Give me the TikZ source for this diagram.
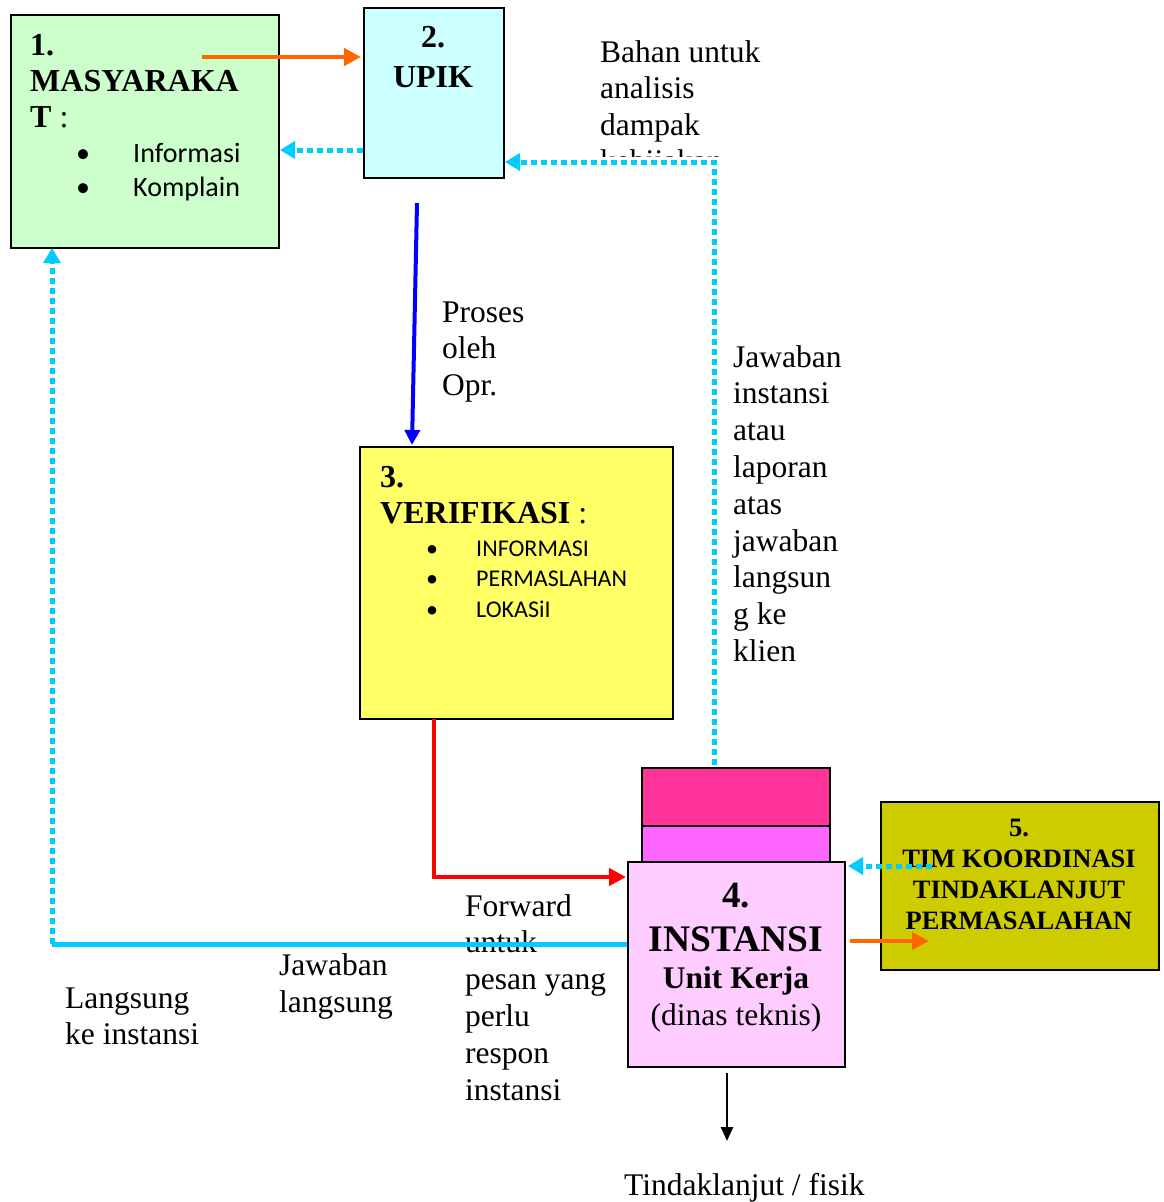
\documentclass[tikz,border=0pt]{standalone}
\usepackage{fontspec}
\setmainfont{Liberation Serif}
\newfontfamily\calfont{Carlito}
\usetikzlibrary{arrows.meta}
\definecolor{cgreen}{HTML}{CCFFCC}
\definecolor{ccyanbox}{HTML}{CCFFFF}
\definecolor{cyellow}{HTML}{FFFF66}
\definecolor{cpink}{HTML}{FFCCFF}
\definecolor{cmag}{HTML}{FF66FF}
\definecolor{crose}{HTML}{FF3399}
\definecolor{colive}{HTML}{CCCC00}
\definecolor{corange}{HTML}{FF6600}
\definecolor{ccyan}{HTML}{00CCFF}
\tikzset{
  box/.style={draw=black, line width=2pt, inner sep=0pt, anchor=north west},
  txt/.style={anchor=base west, inner sep=0pt, font=\fontsize{31.5}{37}\selectfont},
  btxt/.style={anchor=base west, inner sep=0pt, font=\fontsize{32}{36}\selectfont\bfseries},
  ctxt/.style={anchor=base, inner sep=0pt},
  cal/.style={anchor=base west, inner sep=0pt, font=\calfont\fontsize{28}{32}\selectfont},
  cals/.style={anchor=base west, inner sep=0pt, font=\calfont\fontsize{24}{28}\selectfont},
  dotarrow/.style={draw=ccyan, line width=5pt, dash pattern=on 6pt off 4pt, -{Triangle[length=15pt,width=17pt]}},
  orarrow/.style={draw=corange, line width=4.5pt, -{Triangle[length=17pt,width=17pt]}}
}
\begin{document}
\begin{tikzpicture}[x=1pt,y=-1pt]
\useasboundingbox (0,0) rectangle (1163,1202);
% boxes
\node[box, fill=cgreen, minimum width=268pt, minimum height=233pt] (m) at (10,14) {};
\node[box, fill=ccyanbox, minimum width=140pt, minimum height=170pt] (u) at (363,7) {};
\node[box, fill=cyellow, minimum width=313pt, minimum height=272pt] (v) at (359,446) {};
\node[box, fill=crose, minimum width=188pt, minimum height=58pt] (s1) at (641,767) {};
\node[box, fill=cmag, minimum width=188pt, minimum height=36pt] (s2) at (641,825) {};
\node[box, fill=cpink, minimum width=217pt, minimum height=205pt] (i) at (627,861) {};
\node[box, fill=colive, minimum width=278pt, minimum height=168pt] (t) at (880,801) {};
% box 1 text
\node[btxt] (m1) at (30,55) {1.};
\node[btxt] (m2) at (30,91) {MASYARAKA};
\node[btxt] (m3) at (30,127) {T\textnormal{ :}};
\node[cal, anchor=base] (mb1) at (83,162) {•};
\node[cal] (mi1) at (133,162) {Informasi};
\node[cal, anchor=base] (mb2) at (83,196) {•};
\node[cal] (mi2) at (133,196) {Komplain};
% box 2 text
\node[btxt, anchor=base] (u1) at (433,47) {2.};
\node[btxt, anchor=base] (u2) at (433,87) {UPIK};
% box 3 text
\node[btxt] (v1) at (380,487) {3.};
\node[btxt] (v2) at (380,523) {VERIFIKASI\textnormal{ :}};
\foreach \t [count=\k from 0] in {INFORMASI, PERMASLAHAN, LOKASiI}{
  \node[cals, anchor=base] (vb\k) at ({432},{556+\k*30.5}) {•};
  \node[cals] (vi\k) at ({476},{556+\k*30.5}) {\t};
}
% box 4 text
\node[ctxt, font=\fontsize{37}{40}\selectfont\bfseries] (i1) at (736,907) {4.};
\node[ctxt, font=\fontsize{37.5}{40}\selectfont\bfseries] (i2) at (736,951) {INSTANSI};
\node[ctxt, font=\fontsize{31.5}{36}\selectfont\bfseries] (i3) at (736,988) {Unit Kerja};
\node[ctxt, font=\fontsize{31.5}{36}\selectfont] (i4) at (736,1025) {(dinas teknis)};
% box 5 text
\node[ctxt, font=\fontsize{26.5}{30}\selectfont\bfseries] (t1) at (1019,836) {5.};
\node[ctxt, font=\fontsize{26.5}{30}\selectfont\bfseries] (t2) at (1019,867) {TIM KOORDINASI};
\node[ctxt, font=\fontsize{26.5}{30}\selectfont\bfseries] (t3) at (1019,898) {TINDAKLANJUT};
\node[ctxt, font=\fontsize{26.5}{30}\selectfont\bfseries] (t4) at (1019,929) {PERMASALAHAN};
% free labels
\foreach \t [count=\k from 0] in {Bahan untuk, analisis, dampak}{
  \node[txt] (b\k) at ({600},{62+\k*36.5}) {\t};
}
\begin{scope}
\clip (590,140) rectangle (780,156);
\node[txt] (b3) at (600,171) {kebijakan};
\end{scope}
\foreach \t [count=\k from 0] in {Proses, oleh, Opr.}{
  \node[txt] (p\k) at ({442},{322+\k*36.5}) {\t};
}
\foreach \t [count=\k from 0] in {Jawaban, instansi, atau, laporan, atas, jawaban, langsun, g ke, klien}{
  \node[txt] (j\k) at ({733},{367+\k*36.8}) {\t};
}
\foreach \t [count=\k from 0] in {Forward, untuk, pesan yang, perlu, respon, instansi}{
  \node[txt] (f\k) at ({465},{916+\k*36.8}) {\t};
}
\node[txt] (jl1) at (279,975) {Jawaban};
\node[txt] (jl2) at (279,1012) {langsung};
\node[txt] (l1) at (65,1008) {Langsung};
\node[txt] (l2) at (65,1044) {ke instansi};
\node[txt] (tf) at (624,1195) {Tindaklanjut / fisik};
% coordinates for connectors
\coordinate (oa) at (202,57);
\coordinate (ob) at (361,57);
\coordinate (ua) at (363,150);
\coordinate (ub) at (280,150);
\coordinate (ja) at (714,765);
\coordinate (jb) at (714,162);
\coordinate (jc) at (505,162);
\coordinate (pa) at (417,203);
\coordinate (pb) at (412,445);
\coordinate (ra) at (434,719);
\coordinate (rb) at (434,877);
\coordinate (rc) at (626,877);
\coordinate (ta) at (932,866);
\coordinate (tb) at (848,866);
\coordinate (ia) at (850,941);
\coordinate (ib) at (929,941);
\coordinate (la) at (627,944);
\coordinate (lb) at (52,944);
\coordinate (lc) at (52,248);
\coordinate (ka) at (727,1073);
\coordinate (kb) at (727,1141);
% connectors
\draw[orarrow] (oa) -- (ob);
\draw[dotarrow] (ua) -- (ub);
\draw[dotarrow] (ja) -- (jb) -- (jc);
\draw[blue, line width=4pt, -{Triangle[length=15pt,width=15pt]}] (pa) -- (pb);
\draw[red, line width=4.5pt, -{Triangle[length=17pt,width=17pt]}] (ra) -- (rb) -- (rc);
\draw[dotarrow] (ta) -- (tb);
\draw[orarrow] (ia) -- (ib);
\draw[ccyan, line width=5pt] (la) -- (lb);
\draw[dotarrow] (lb) -- (lc);
\draw[black, line width=2.5pt, -{Triangle[length=14pt,width=12pt]}] (ka) -- (kb);
\end{tikzpicture}
\end{document}
